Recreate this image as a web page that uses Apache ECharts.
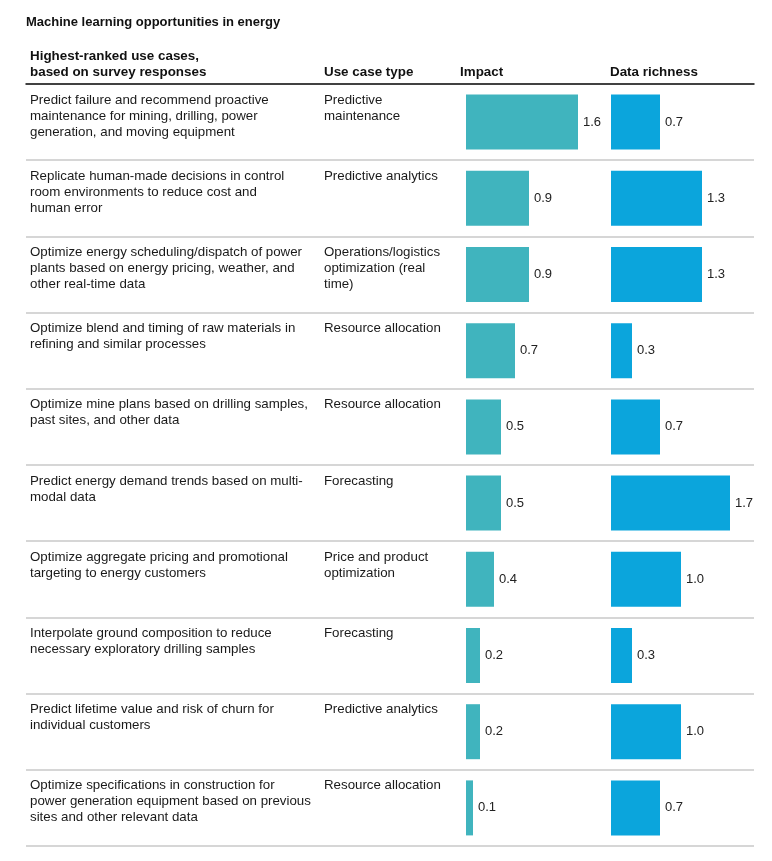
<!DOCTYPE html>
<html>
<head>
<meta charset="utf-8">
<script src="https://cdn.jsdelivr.net/npm/echarts@6/dist/echarts.min.js"></script>
<style>html,body{margin:0;padding:0;background:#fff}#c{width:772px;height:861px}</style>
</head>
<body>
<div id="c"></div>
<script>
const useCases = [
  "Predict failure and recommend proactive\nmaintenance for mining, drilling, power\ngeneration, and moving equipment",
  "Replicate human-made decisions in control\nroom environments to reduce cost and\nhuman error",
  "Optimize energy scheduling/dispatch of power\nplants based on energy pricing, weather, and\nother real-time data",
  "Optimize blend and timing of raw materials in\nrefining and similar processes",
  "Optimize mine plans based on drilling samples,\npast sites, and other data",
  "Predict energy demand trends based on multi-\nmodal data",
  "Optimize aggregate pricing and promotional\ntargeting to energy customers",
  "Interpolate ground composition to reduce\nnecessary exploratory drilling samples",
  "Predict lifetime value and risk of churn for\nindividual customers",
  "Optimize specifications in construction for\npower generation equipment based on previous\nsites and other relevant data"
];
const useCaseTypes = [
  "Predictive\nmaintenance",
  "Predictive analytics",
  "Operations/logistics\noptimization (real\ntime)",
  "Resource allocation",
  "Resource allocation",
  "Forecasting",
  "Price and product\noptimization",
  "Forecasting",
  "Predictive analytics",
  "Resource allocation"
];
const impact = [1.6, 0.9, 0.9, 0.7, 0.5, 0.5, 0.4, 0.2, 0.2, 0.1];
const dataRichness = [0.7, 1.3, 1.3, 0.3, 0.7, 1.7, 1.0, 0.3, 1.0, 0.7];

const rowIds = useCases.map((_, i) => 'r' + i);
const FONT = 'Liberation Sans, Arial, sans-serif';
const TOP = 84, H = 762;

const chart = echarts.init(document.getElementById('c'), null, {renderer: 'canvas'});
const barLabel = {
  show: true, position: 'right', distance: 5,
  color: '#222', fontFamily: FONT, fontSize: 13,
  formatter: p => p.value.toFixed(1)
};
const textLabel = (margin) => ({
  show: true, interval: 0, align: 'left', verticalAlign: 'top',
  margin: margin, padding: [8, 0, 0, 0],
  color: '#1a1a1a', fontFamily: FONT, fontSize: 13.3, lineHeight: 16
});
const headStyle = {fontFamily: FONT, fontSize: 13.4, fontWeight: 'bold', color: '#111', lineHeight: 16};

chart.setOption({
  animation: false,
  backgroundColor: '#fff',
  title: [
    {text: 'Machine learning opportunities in energy', left: 26, top: 15, padding: 0,
     textStyle: {fontFamily: FONT, fontSize: 13, fontWeight: 'bold', color: '#111', lineHeight: 14}},
    {text: 'Highest-ranked use cases,\nbased on survey responses', left: 30, top: 48, padding: 0, textStyle: headStyle},
    {text: 'Use case type', left: 324, top: 64, padding: 0, textStyle: headStyle},
    {text: 'Impact', left: 460, top: 64, padding: 0, textStyle: headStyle},
    {text: 'Data richness', left: 610, top: 64, padding: 0, textStyle: headStyle}
  ],
  grid: [
    {left: 26, width: 728, top: TOP, height: H},
    {left: 466, width: 140, top: TOP, height: H},
    {left: 611, width: 140, top: TOP, height: H}
  ],
  xAxis: [
    {gridIndex: 0, type: 'value', position: 'top', min: 0, max: 1,
     axisLine: {show: true, lineStyle: {color: '#111', width: 1.5}},
     axisTick: {show: false}, axisLabel: {show: false}, splitLine: {show: false}},
    {gridIndex: 1, type: 'value', min: 0, max: 2, show: false},
    {gridIndex: 2, type: 'value', min: 0, max: 2, show: false}
  ],
  yAxis: [
    {gridIndex: 0, type: 'category', position: 'left', inverse: true, boundaryGap: false,
     data: useCases.concat(['']),
     axisLine: {show: false}, axisTick: {show: false},
     splitLine: {show: true, interval: 0, lineStyle: {color: '#c8c8c8', width: 1.5}},
     axisLabel: textLabel(-4)},
    {gridIndex: 0, type: 'category', position: 'left', offset: 0, inverse: true, boundaryGap: false,
     data: useCaseTypes.concat(['']),
     axisLine: {show: false}, axisTick: {show: false}, splitLine: {show: false},
     axisLabel: textLabel(-298)},
    {gridIndex: 1, type: 'category', inverse: true, data: rowIds, show: false},
    {gridIndex: 2, type: 'category', inverse: true, data: rowIds, show: false}
  ],
  series: [
    {name: 'Impact', type: 'bar', xAxisIndex: 1, yAxisIndex: 2, data: impact,
     barWidth: 55, itemStyle: {color: '#40b4be'}, label: barLabel},
    {name: 'Data richness', type: 'bar', xAxisIndex: 2, yAxisIndex: 3, data: dataRichness,
     barWidth: 55, itemStyle: {color: '#0ba5dc'}, label: barLabel}
  ]
});
</script>
</body>
</html>
